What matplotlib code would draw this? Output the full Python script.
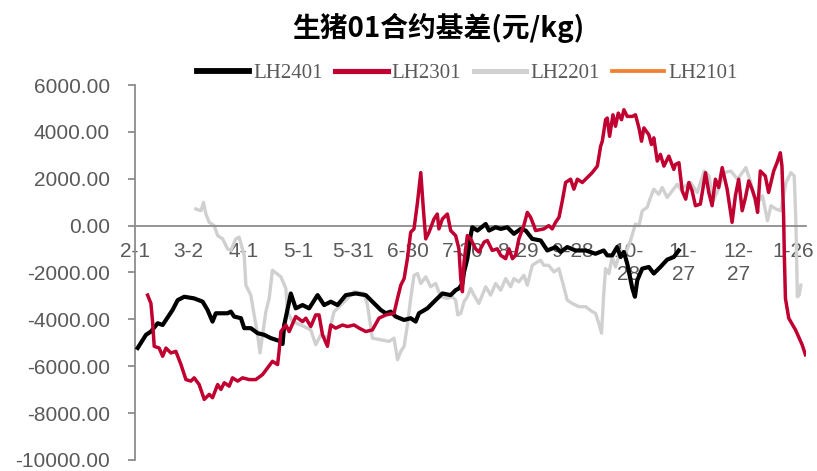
import matplotlib.pyplot as plt
from matplotlib.ticker import FixedLocator, FormatStrFormatter

plt.rcParams['font.family'] = ['Liberation Sans', 'DejaVu Sans']

# 日期刻度(以2月1日为第0天)
tick_days = [0, 29, 59, 89, 119, 149, 179, 209, 239, 269, 299, 329, 359]
tick_labels = ['2-1', '3-2', '4-1', '5-1', '5-31', '6-30', '7-30', '8-29',
               '9-28', '10-\n28', '11-\n27', '12-\n27', '1-26']

# LH2401 基差
lh2401_day = [1.5, 6.0, 8.7, 12.4, 15.1, 16.9, 20.5, 23.3, 26.9, 32.3, 36.9, 39.6,
              42.3, 44.1, 50.5, 52.3, 54.1, 57.8, 59.6, 63.2, 66.9, 70.5, 74.1, 76.8,
              79.6, 80.5, 81.4, 84.1, 85.0, 87.7, 91.4, 95.0, 99.6, 103.2, 106.8, 110.5,
              115.0, 120.4, 125.9, 129.5, 134.1, 136.8, 139.5, 142.2, 146.8, 150.4, 153.1,
              154.9, 159.5, 163.1, 167.7, 172.2, 174.9, 176.7, 178.6, 179.5, 181.3, 183.1,
              184.0, 186.8, 191.3, 193.1, 196.7, 199.5, 203.1, 206.7, 210.4, 213.1, 216.7,
              221.3, 224.9, 229.5, 232.2, 235.8, 240.3, 245.8, 251.2, 255.7, 257.6, 260.3,
              263.0, 264.9, 266.7, 268.5, 271.3, 272.7, 274.0, 276.7, 280.3, 283.0, 286.6,
              290.3, 293.9, 296.6]
lh2401_val = [-5220, -4660, -4520, -4165, -4240, -4025, -3600, -3180, -3035, -3105, -3245, -3600,
              -4095, -3740, -3740, -3670, -3880, -3950, -4375, -4375, -4590, -4660, -4800, -4870,
              -4940, -5050, -4240, -3245, -2895, -3530, -3390, -3530, -2965, -3390, -3245, -3390,
              -2965, -2895, -2965, -3245, -3600, -3740, -3670, -3880, -4025, -3950, -4095,
              -3740, -3530, -3245, -2895, -2965, -2755, -2680, -2470, -1975, -1410, -425,
              -70, -210, 70, -210, -70, -140, -70, -350, -140, -210, -565,
              -635, -1060, -915, -1125, -915, -1060, -1060, -1200, -1060, -1270, -1270,
              -915, -1340, -1125, -1620, -2680, -3035, -2330, -1835, -1765, -2045, -1765,
              -1450, -1340, -1060]

# LH2301 基差
lh2301_day = [6.9, 8.7, 9.6, 10.5, 13.2, 15.1, 16.9, 19.6, 22.3, 25.1, 27.8, 30.5, 32.3,
              35.0, 37.8, 40.5, 42.3, 45.1, 46.9, 48.7, 51.4, 53.2, 56.0, 58.7, 62.3, 65.9,
              69.6, 72.3, 75.0, 77.8, 78.6, 79.6, 82.3, 84.1, 87.7, 91.4, 93.2, 95.9, 98.6,
              100.4, 102.3, 105.0, 106.8, 109.5, 113.2, 115.9, 119.5, 122.3, 125.9, 129.5,
              133.1, 136.8, 141.3, 143.2, 145.0, 146.8, 148.6, 150.4, 152.2, 154.1, 155.9,
              157.3, 158.6, 160.4, 163.1, 164.9, 165.8, 167.7, 170.4, 172.2, 174.9, 176.7,
              177.7, 178.6, 179.5, 181.3, 183.1, 185.8, 187.6, 190.4, 192.2, 194.9, 197.6,
              199.5, 202.2, 204.0, 205.9, 207.6, 209.4, 212.1, 214.0, 215.8, 217.6, 218.5,
              223.0, 225.7, 227.6, 229.4, 231.3, 233.1, 234.9, 237.6, 239.4, 241.3, 244.0,
              246.7, 249.4, 252.2, 254.0, 254.9, 256.7, 257.6, 258.9, 260.7, 262.1, 263.6,
              265.4, 266.7, 268.5, 271.3, 273.0, 274.9, 276.3, 277.6, 280.3, 281.7, 283.0,
              284.9, 286.6, 288.5, 291.2, 293.9, 294.8, 296.7, 298.5, 300.4, 302.1, 303.9,
              305.7, 308.4, 311.2, 313.0, 314.8, 316.6, 318.4, 320.3, 323.0, 325.7, 327.5,
              329.3, 331.2, 333.0, 334.8, 336.6, 338.4, 339.6, 341.1, 343.8, 345.6, 348.4,
              350.2, 352.0, 352.9, 353.8, 354.2, 354.8, 356.6, 360.3, 363.9, 365.7]
lh2301_val = [-2965, -3320, -4095, -5150, -5225, -5575, -5225, -5435, -5365, -5930, -6570, -6635, -6495,
              -6780, -7415, -7200, -7345, -6780, -6990, -6705, -6850, -6495, -6635, -6495, -6570, -6570,
              -6355, -6070, -5790, -5930, -5365, -4520, -4240, -4520, -3880, -4095, -3950, -4305, -3810,
              -3810, -4660, -5150, -4240, -4375, -4240, -4305, -4240, -4375, -4520, -4450,
              -3950, -3810, -3740, -3105, -2540, -2260, -1410, -280, -140, 990, 2260,
              710, -565, -280, 285, 495, -140, 285, 495, -210, -425, -990,
              -2260, -2820, -1550, -425, -565, -990, -1125, -705, -635, -1060, -990,
              -1270, -1410, -990, -1410, -1270, -565, 0, 565, 355, 0, -210,
              -140, 0, -140, 140, 355, 1060, 1840, 1980, 1555, 1980, 1840,
              2050, 2260, 2540, 3390, 3600, 4520, 4590, 3810, 4730, 4240, 4800,
              4520, 4945, 4660, 4660, 4730, 4170, 3600, 4170, 3880, 3460, 3745,
              2755, 3040, 2540, 2965, 2400, 2610, 2685, 1480, 1130, 1840, 1480,
              850, 920, 2260, 1415, 850, 1980, 1625, 2475, 1555, 140, 1270,
              1980, 635, 1200, 1910, 1555, 1130, 565, 2330, 2120, 1415, 2330,
              2685, 3110, 2540, 425, -1270, -3105, -3950, -4450, -5080, -5510]

# LH2201 基差
lh2201_day = [33.2, 36.0, 37.4, 38.7, 40.5, 43.2, 45.1, 47.8, 50.5, 52.3, 55.0, 56.8, 59.6,
              60.5, 63.2, 65.0, 66.9, 68.2, 69.6, 71.4, 73.2, 75.0, 79.6, 82.3, 83.2, 85.9,
              90.5, 95.9, 98.6, 101.4, 105.0, 108.6, 112.3, 116.8, 119.5, 124.9, 126.8, 129.5,
              134.1, 138.6, 141.3, 143.2, 145.0, 146.8, 148.6, 150.4, 152.2, 154.1, 155.9,
              158.6, 161.3, 164.0, 166.8, 170.4, 173.1, 174.9, 176.1, 177.7, 179.5, 181.3,
              183.1, 184.9, 187.6, 191.3, 194.0, 196.7, 199.5, 202.2, 204.9, 206.7, 209.4,
              212.1, 214.0, 216.7, 219.5, 221.3, 223.0, 225.7, 228.5, 231.2, 233.9, 235.8,
              238.5, 242.2, 245.8, 249.4, 251.2, 253.0, 254.5, 255.7, 256.7, 258.5, 260.3,
              262.1, 264.9, 267.6, 270.3, 273.0, 274.9, 276.7, 279.4, 281.2, 283.0, 285.7,
              287.6, 290.3, 293.0, 295.8, 297.6, 303.0, 306.7, 310.5, 313.2, 315.0, 317.8,
              321.4, 325.0, 328.7, 333.2, 335.9, 338.7, 342.3, 345.0, 346.9, 349.6, 352.3,
              355.1, 357.8, 359.6, 360.5, 361.0, 361.3, 362.3, 363.2]
lh2201_val = [710, 635, 990, 495, 140, 0, -425, -565, -990, -1060, -565, -490, -1270,
              -2540, -2965, -3810, -4660, -5435, -4660, -3670, -3105, -1905, -2185, -2680, -3670, -4095,
              -4240, -4450, -5080, -4660, -4800, -3670, -3390, -3035, -2820, -2895, -3390, -4800,
              -4870, -4940, -4800, -5720, -5365, -5150, -4240, -3105, -2120, -2045, -2470,
              -2185, -2610, -2470, -3035, -3105, -3035, -3180, -3810, -3740, -3245, -3035,
              -2680, -2965, -3320, -2610, -2965, -2470, -2755, -2260, -2610, -2260, -2400,
              -2120, -2540, -1695, -1550, -1480, -1695, -1695, -1975, -1835, -2610, -3180,
              -3320, -3460, -3460, -3670, -3740, -4165, -4590, -2895, -1835, -2045, -1340,
              -1765, -1060, -1200, -635, 70, 0, 635, 780, 1200, 1555, 1340,
              1625, 1200, 1480, 1765, 1555, 1840, 1415, 2330, 2120, 990, 1480,
              2260, 2330, 1980, 2475, 1840, 850, 1270, 210, 850, 710, 635,
              1840, 2260, 2120, 140, -1975, -3035, -2965, -2540]

# LH2101 无数据
lh2101_day = []
lh2101_val = []

fig = plt.figure(figsize=(8.17, 4.71), dpi=100)
ax = fig.add_axes([0.1652, 0.0234, 0.8213, 0.7961])

ax.plot(lh2201_day, lh2201_val, color='#d0d0d0', lw=2.4, zorder=2, label='LH2201')
ax.plot(lh2401_day, lh2401_val, color='#000000', lw=3.0, zorder=3, label='LH2401')
ax.plot(lh2301_day, lh2301_val, color='#c00030', lw=2.5, zorder=4, label='LH2301')
ax.plot(lh2101_day, lh2101_val, color='#f0802e', lw=1.5, label='LH2101')

ax.set_xlim(0, 366)
ax.set_ylim(-10000, 6000)

axis_grey = '#8c8c8c'
text_grey = '#595959'

for s in ['top', 'right']:
    ax.spines[s].set_visible(False)
ax.spines['bottom'].set_position(('data', 0))
ax.spines['bottom'].set_color(axis_grey)
ax.spines['left'].set_color(axis_grey)
ax.spines['bottom'].set_linewidth(1.3)
ax.spines['left'].set_linewidth(1.3)

ax.set_yticks(range(-10000, 6001, 2000))
ax.yaxis.set_major_formatter(FormatStrFormatter('%.2f'))
ax.tick_params(axis='y', colors=axis_grey, labelcolor=text_grey, labelsize=15,
               length=5, width=1.3, pad=13)

ax.set_xticks(tick_days)
ax.set_xticklabels(tick_labels)
ax.tick_params(axis='x', which='major', length=0, labelcolor=text_grey,
               labelsize=15, pad=12)
ax.xaxis.set_minor_locator(FixedLocator(tick_days[::2]))
ax.tick_params(axis='x', which='minor', length=5, width=1.3, color=axis_grey)
for t in ax.get_xticklabels():
    t.set_verticalalignment('top')
    t.set_linespacing(1.25)

handles, labels = ax.get_legend_handles_labels()
order = ['LH2401', 'LH2301', 'LH2201', 'LH2101']
hmap = dict(zip(labels, handles))
leg = fig.legend([hmap[k] for k in order], order, loc='center', bbox_to_anchor=(0.572, 0.845),
                 ncol=4, frameon=False, handlelength=2.5, handletextpad=0.2, columnspacing=0.6,
                 prop={'family': 'Liberation Serif', 'size': 15})
for t in leg.get_texts():
    t.set_color(text_grey)
for h in leg.legend_handles:
    h.set_linewidth(h.get_linewidth() + 1.2)

fig.text(0.536, 0.94, '生猪01合约基差(元/kg)', ha='center', va='center',
         fontsize=20, fontweight='bold', family=['Noto Sans CJK SC', 'DejaVu Sans'])

fig.savefig('out.png', dpi=100)
